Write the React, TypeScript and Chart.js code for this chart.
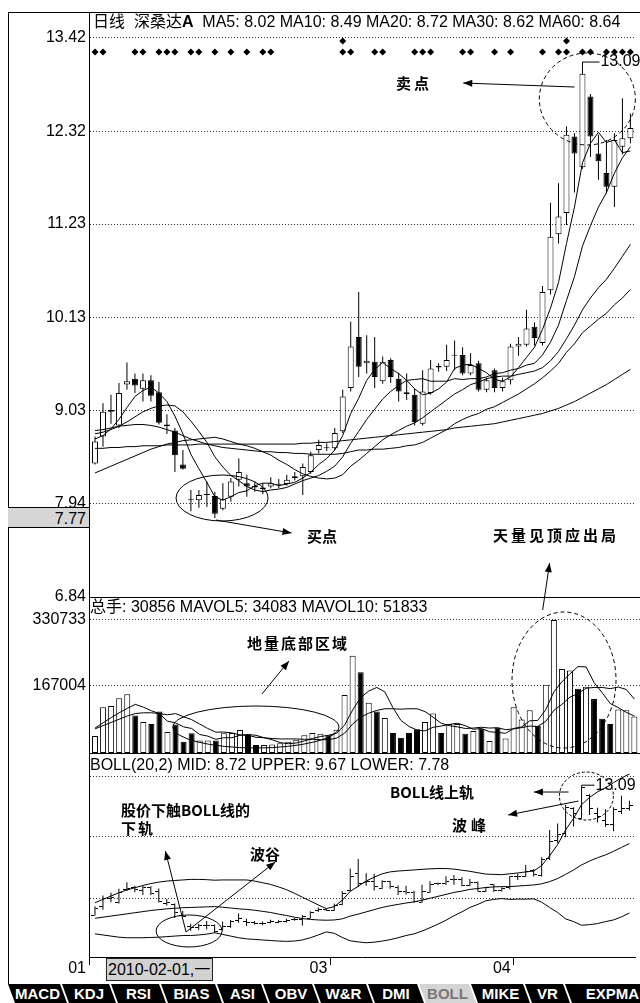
import React, { useEffect, useRef } from 'react';
import { Chart, registerables } from 'chart.js';

Chart.register(...registerables);

// ---------------- data ----------------
const DATES = [
  '2010-01-11','2010-01-12','2010-01-13','2010-01-14','2010-01-15','2010-01-18','2010-01-19','2010-01-20','2010-01-21','2010-01-22',
  '2010-01-25','2010-01-26','2010-01-27','2010-01-28','2010-01-29','2010-02-01','2010-02-02','2010-02-03','2010-02-04','2010-02-05',
  '2010-02-08','2010-02-09','2010-02-10','2010-02-11','2010-02-12','2010-02-22','2010-02-23','2010-02-24','2010-02-25','2010-02-26',
  '2010-03-01','2010-03-02','2010-03-03','2010-03-04','2010-03-05','2010-03-08','2010-03-09','2010-03-10','2010-03-11','2010-03-12',
  '2010-03-15','2010-03-16','2010-03-17','2010-03-18','2010-03-19','2010-03-22','2010-03-23','2010-03-24','2010-03-25','2010-03-26',
  '2010-03-29','2010-03-30','2010-03-31','2010-04-01','2010-04-02','2010-04-06','2010-04-07','2010-04-08','2010-04-09','2010-04-12',
  '2010-04-13','2010-04-14','2010-04-15','2010-04-16','2010-04-19','2010-04-20','2010-04-21','2010-04-22',
];

const OPEN = [8.41,8.73,9.02,8.86,9.34,9.41,9.29,9.39,9.25,8.85, 8.80,8.40,7.99,7.98,8.04,8.03,7.88,8.02,8.22,8.18, 8.15,8.11,8.14,8.16,8.17,8.24,8.26,8.31,8.57,8.60, 8.59,8.79,9.30,9.90,9.59,9.61,9.38,9.63,9.41,9.25, 9.22,8.88,9.24,9.56,9.55,9.68,9.69,9.47,9.59,9.28, 9.51,9.30,9.39,9.79,9.81,10.02,9.83,10.45,11.11,11.36, 12.26,11.90,12.73,12.06,11.83,11.67,12.14,12.24];
const HIGH = [8.73,9.12,9.22,9.36,9.60,9.47,9.47,9.45,9.37,8.99, 8.83,8.57,8.10,8.10,8.20,8.08,8.18,8.24,8.47,8.28, 8.20,8.18,8.25,8.23,8.28,8.31,8.41,8.55,8.69,8.65, 8.83,9.28,10.08,10.43,9.92,9.90,9.67,9.65,9.48,9.47, 9.29,9.51,9.63,9.59,9.81,9.86,9.78,9.71,9.62,9.42, 9.53,9.42,9.82,9.90,10.22,10.07,10.50,11.48,11.71,12.38, 12.30,13.09,12.76,12.28,12.22,12.30,12.71,12.53];
const LOW = [8.40,8.61,8.88,8.83,9.28,9.24,9.14,9.14,8.87,8.76, 8.31,8.34,7.85,7.89,7.90,7.77,7.86,7.96,8.14,8.02, 8.08,8.05,8.12,8.12,8.15,8.21,8.04,8.29,8.53,8.56, 8.57,8.77,9.26,9.43,9.47,9.30,9.35,9.36,9.14,9.16, 8.86,8.86,9.22,9.49,9.50,9.51,9.45,9.45,9.26,9.25, 9.25,9.26,9.34,9.68,9.79,9.80,9.80,10.40,11.00,11.22, 11.60,11.88,12.02,11.75,11.59,11.43,12.05,12.18];
const CLOSE = [8.67,9.02,9.04,9.24,9.38,9.33,9.39,9.21,8.89,8.87, 8.51,8.35,7.98,8.04,8.05,7.82,7.99,8.20,8.31,8.14, 8.13,8.13,8.18,8.17,8.22,8.26,8.37,8.51,8.63,8.59, 8.77,9.20,9.79,9.55,9.62,9.43,9.61,9.43,9.26,9.23, 8.90,9.26,9.53,9.54,9.63,9.69,9.47,9.57,9.28,9.39, 9.30,9.38,9.79,9.82,10.00,9.89,10.43,11.08,11.32,12.28, 12.06,13.00,12.26,11.97,11.67,12.22,12.24,12.36];

const MA5 = [8.70,8.74,8.82,8.93,9.07,9.20,9.27,9.31,9.24,9.14, 8.97,8.76,8.52,8.35,8.19,8.02,7.98,8.02,8.07,8.09, 8.15,8.18,8.18,8.15,8.17,8.19,8.24,8.31,8.40,8.47, 8.57,8.74,9.00,9.18,9.39,9.52,9.60,9.53,9.47,9.39, 9.29,9.22,9.24,9.29,9.37,9.53,9.57,9.58,9.53,9.48, 9.40,9.38,9.43,9.54,9.66,9.78,9.99,10.24,10.54,11.00, 11.43,11.95,12.18,12.31,12.19,12.22,12.07,12.09];
const MA10 = [8.76,8.78,8.81,8.85,8.90,8.96,9.02,9.06,9.09,9.10, 9.09,9.02,8.91,8.79,8.66,8.49,8.37,8.27,8.21,8.14, 8.10,8.08,8.10,8.11,8.13,8.17,8.21,8.24,8.27,8.32, 8.38,8.49,8.65,8.79,8.93,9.05,9.17,9.26,9.33,9.39, 9.40,9.41,9.38,9.38,9.38,9.41,9.40,9.41,9.41,9.43, 9.47,9.48,9.51,9.53,9.57,9.59,9.69,9.84,10.04,10.33, 10.61,10.97,11.21,11.43,11.60,11.83,12.01,12.14];
const MA20 = [8.30,8.34,8.38,8.42,8.46,8.50,8.54,8.58,8.61,8.64, 8.66,8.68,8.69,8.70,8.71,8.72,8.70,8.67,8.64,8.62, 8.59,8.55,8.51,8.45,8.40,8.34,8.29,8.26,8.24,8.23, 8.24,8.28,8.38,8.45,8.53,8.61,8.69,8.75,8.80,8.85, 8.89,8.95,9.02,9.09,9.16,9.23,9.28,9.34,9.37,9.41, 9.43,9.44,9.44,9.46,9.48,9.50,9.54,9.62,9.73,9.88, 10.04,10.22,10.36,10.48,10.58,10.71,10.85,10.99];
const MA30 = [8.80,8.81,8.83,8.85,8.86,8.87,8.87,8.86,8.84,8.81, 8.78,8.74,8.70,8.67,8.64,8.62,8.60,8.59,8.58,8.57, 8.56,8.55,8.55,8.54,8.54,8.53,8.53,8.52,8.52,8.52, 8.52,8.53,8.55,8.57,8.57,8.58,8.58,8.59,8.60,8.62, 8.63,8.66,8.71,8.76,8.81,8.88,8.93,8.97,9.00,9.05, 9.08,9.13,9.18,9.23,9.29,9.35,9.42,9.50,9.59,9.72, 9.82,9.95,10.03,10.11,10.18,10.28,10.36,10.46];
const MA60 = [8.59,8.59,8.60,8.60,8.61,8.61,8.62,8.62,8.62,8.63, 8.63,8.63,8.63,8.64,8.64,8.64,8.64,8.64,8.64,8.64, 8.64,8.64,8.64,8.64,8.64,8.64,8.65,8.65,8.66,8.66, 8.67,8.68,8.69,8.70,8.71,8.72,8.73,8.74,8.75,8.76, 8.77,8.78,8.79,8.80,8.81,8.83,8.84,8.85,8.86,8.87, 8.88,8.90,8.92,8.94,8.96,8.98,9.00,9.03,9.06,9.10, 9.14,9.19,9.24,9.29,9.34,9.40,9.46,9.52];

const VOLUME = [42000,114000,117000,136000,146000,93000,77000,72000,103000,52000, 71000,28000,49000,31000,31000,30856,49000,50000,57000,45000, 20000,20000,21000,24000,28000,33000,44000,50000,48000,44000, 58000,144000,242000,201000,125000,103000,87000,50000,38000,50000, 59000,77000,98000,50000,72000,72000,48000,55000,60000,30000, 63000,36000,114000,83000,106000,68000,170000,330733,209000,205000, 160000,165000,134000,85000,72000,108000,106000,91000];
const MAVOL5 = [62000,75000,88000,100000,111000,121000,114000,105000,98000,79000, 75000,65000,61000,46000,42000,34083,38000,38000,44000,46000, 44000,38000,33000,26000,23000,25000,30000,36000,41000,44000, 49000,69000,107000,138000,154000,163000,152000,113000,81000,66000, 57000,55000,64000,67000,71000,74000,68000,59000,61000,53000, 51000,49000,61000,65000,80000,81000,108000,152000,177000,197000, 215000,214000,175000,150000,123000,113000,101000,92000];
const MAVOL10 = [60000,68000,76000,84000,92000,98000,100000,100000,98000,95000, 98000,90000,83000,72000,61000,51833,52000,50000,45000,44000, 39000,38000,36000,35000,35000,35000,34000,34000,33000,33000, 37000,49000,72000,89000,99000,106000,110000,110000,109000,110000, 110000,103000,89000,74000,68000,65000,61000,62000,64000,62000, 63000,58000,60000,63000,67000,66000,79000,106000,121000,139000, 148000,161000,163000,163000,160000,164000,158000,134000];

const BOLL_UPPER = [8.86,8.98,9.10,9.22,9.32,9.40,9.48,9.55,9.60,9.64, 9.66,9.68,9.70,9.70,9.69,9.67,9.68,9.68,9.68,9.68, 9.64,9.58,9.52,9.43,9.33,9.20,9.06,8.92,8.78,8.65, 8.72,8.95,9.27,9.45,9.64,9.78,9.90,9.97,10.00,10.02, 10.04,10.06,10.08,10.09,10.09,10.07,10.03,9.99,9.94,9.89, 9.88,9.87,9.90,9.93,9.97,10.00,10.20,10.55,10.95,11.48, 11.90,12.39,12.65,12.85,12.99,13.18,13.35,13.49];
const BOLL_LOWER = [7.74,7.70,7.66,7.62,7.60,7.60,7.60,7.61,7.62,7.64, 7.66,7.68,7.68,7.70,7.73,7.78,7.72,7.66,7.60,7.56, 7.54,7.52,7.50,7.48,7.47,7.48,7.52,7.60,7.70,7.81, 7.76,7.61,7.49,7.45,7.42,7.44,7.48,7.53,7.60,7.68, 7.74,7.84,7.96,8.09,8.23,8.39,8.53,8.69,8.80,8.93, 8.98,9.01,8.98,8.99,8.99,9.00,8.88,8.69,8.51,8.28, 8.18,8.05,8.07,8.11,8.18,8.24,8.35,8.49];

const SIGNAL_ROW = [0,1,5,6,8,9,10,12,13,15,17,19,21,22,31,32,35,36,40,41,42,46,47,50,52,56,58,59,61,62,64,65,66,67];
const SIGNAL_TOP = [31, 59];

const PRICE_TICKS = [6.84, 7.94, 9.03, 10.13, 11.23, 12.32, 13.42];
const VOLUME_TICKS = [167004, 330733];
const BOLL_GRID = [9.03, 11.23, 13.42];
const CURSOR = 15;
const WEEKDAYS = ['日', '一', '二', '三', '四', '五', '六'];
const STOCK = '深桑达';
const TABS = ['MACD', 'KDJ', 'RSI', 'BIAS', 'ASI', 'OBV', 'W&R', 'DMI', 'BOLL', 'MIKE', 'VR', 'EXPMA'];
const ACTIVE_TAB = 'BOLL';

// ---------------- layout / style ----------------
const FONT = "'Liberation Sans', Arial, 'Noto Sans CJK SC', sans-serif";
const CJK_BOLD = "'Noto Sans CJK SC', 'Liberation Sans', sans-serif";
const X_MIN = -0.75;
const X_MAX = 67.7;
const AXIS_W = 89;
const SIGNAL_ROW_LEVEL = 13.255;
const SIGNAL_TOP_LEVEL = 13.385;
const TAB_LEFT = [8, 62, 111, 161, 217, 263, 314, 368, 419, 471, 525, 565];

const pts = (arr: number[]) => arr.map((v, i) => ({ x: i, y: v }));
const candleFill = OPEN.map((o, i) => (CLOSE[i] >= o ? '#ffffff' : '#000000'));

function monthTicks() {
  const out = [{ value: X_MIN, label: DATES[0].slice(5, 7) }];
  for (let i = 1; i < DATES.length; i++) {
    if (DATES[i].slice(5, 7) !== DATES[i - 1].slice(5, 7)) out.push({ value: i - 0.5, label: DATES[i].slice(5, 7) });
  }
  return out;
}

const hiddenX: any = {
  type: 'linear', min: X_MIN, max: X_MAX, bounds: 'data', offset: false, display: false, grid: { offset: false },
};

function yAxis(min: number, max: number, ticks: number[], showLabels: boolean, fmt: (v: number) => string): any {
  return {
    type: 'linear', position: 'left', min, max, bounds: 'data',
    afterBuildTicks: (s: any) => { s.ticks = ticks.map((v) => ({ value: v })); },
    afterFit: (s: any) => { s.width = AXIS_W; },
    ticks: { display: showLabels, padding: 3, color: '#000', font: { family: FONT, size: 16 }, callback: (v: any) => fmt(Number(v)) },
    grid: { color: '#333', lineWidth: 1, drawTicks: false },
    border: { display: true, color: '#000', width: 1, dash: [1, 2] },
  };
}

const line = (label: string, arr: number[], order = 0): any => ({
  type: 'line', label, data: pts(arr), borderColor: '#000', borderWidth: 1, pointRadius: 0, tension: 0, fill: false, order,
});

function notes(shapes: any[]) {
  return {
    id: 'notes',
    afterDraw(chart: any) {
      const { ctx } = chart;
      const xs = chart.scales.x;
      const ys = chart.scales.y;
      ctx.save();
      ctx.strokeStyle = '#000';
      ctx.fillStyle = '#000';
      ctx.lineWidth = 1;
      for (const s of shapes) {
        if (s.kind === 'ellipse') {
          ctx.setLineDash(s.dash || []);
          ctx.beginPath();
          ctx.ellipse(xs.getPixelForValue(s.x), ys.getPixelForValue(s.y), s.rx, s.ry, 0, 0, Math.PI * 2);
          ctx.stroke();
        } else if (s.kind === 'arrow') {
          ctx.setLineDash([]);
          const ax = xs.getPixelForValue(s.x1), ay = ys.getPixelForValue(s.y1);
          const bx = xs.getPixelForValue(s.x2), by = ys.getPixelForValue(s.y2);
          ctx.beginPath(); ctx.moveTo(ax, ay); ctx.lineTo(bx, by); ctx.stroke();
          const a = Math.atan2(by - ay, bx - ax);
          const L = 9, H = 3.5;
          ctx.beginPath();
          ctx.moveTo(bx, by);
          ctx.lineTo(bx - L * Math.cos(a) + H * Math.sin(a), by - L * Math.sin(a) - H * Math.cos(a));
          ctx.lineTo(bx - L * Math.cos(a) - H * Math.sin(a), by - L * Math.sin(a) + H * Math.cos(a));
          ctx.closePath();
          ctx.fill();
        } else if (s.kind === 'peak') {
          ctx.setLineDash([]);
          const px = xs.getPixelForValue(s.x), py = ys.getPixelForValue(s.y);
          ctx.beginPath();
          ctx.moveTo(px, py);
          ctx.lineTo(px, py - s.up);
          ctx.lineTo(px + s.right, py - s.up);
          ctx.stroke();
          ctx.font = `16px ${FONT}`;
          ctx.textAlign = 'left';
          ctx.textBaseline = 'middle';
          ctx.fillText(s.text, px + s.right + 1, py - s.up);
        }
      }
      ctx.restore();
    },
  };
}

const PEAK = 61;
const PRICE_SHAPES = [
  { kind: 'ellipse', x: 15.9, y: 8.005, rx: 46, ry: 23 },
  { kind: 'arrow', x1: 15.15, y1: 7.746, x2: 24.59, y2: 7.593 },
  { kind: 'ellipse', x: 61.61, y: 12.702, rx: 48, ry: 46, dash: [4, 3] },
  { kind: 'arrow', x1: 60.0, y1: 12.843, x2: 46.08, y2: 12.89 },
  { kind: 'arrow', x1: 56.02, y1: 6.687, x2: 56.89, y2: 7.24 },
  { kind: 'peak', x: PEAK, y: HIGH[PEAK], up: 4, right: 17, text: HIGH[PEAK].toFixed(2) },
];
const VOLUME_SHAPES = [
  { kind: 'ellipse', x: 19.99, y: 64655, rx: 83, ry: 21 },
  { kind: 'ellipse', x: 58.26, y: 181531, rx: 52, ry: 68, dash: [4, 3] },
  { kind: 'arrow', x1: 20.74, y1: 146717, x2: 24.09, y2: 228778 },
];
const BOLL_SHAPES = [
  { kind: 'ellipse', x: 11.8, y: 7.843, rx: 33, ry: 16 },
  { kind: 'arrow', x1: 11.42, y1: 7.807, x2: 8.82, y2: 10.721 },
  { kind: 'arrow', x1: 11.42, y1: 7.807, x2: 22.6, y2: 10.325 },
  { kind: 'ellipse', x: 61.61, y: 12.7, rx: 27, ry: 24, dash: [3, 2] },
  { kind: 'arrow', x1: 59.37, y1: 12.844, x2: 55.03, y2: 12.844 },
  { kind: 'arrow', x1: 60.61, y1: 12.52, x2: 51.8, y2: 12.017 },
  { kind: 'peak', x: PEAK, y: HIGH[PEAK], up: 0, right: 13, text: HIGH[PEAK].toFixed(2) },
];

const LABELS = [
  { text: '卖点', x: 396, y: 82, sp: 3 },
  { text: '买点', x: 307, y: 535, sp: 0 },
  { text: '天量见顶应出局', x: 493, y: 534, sp: 3 },
  { text: '地量底部区域', x: 247, y: 642, sp: 2 },
  { text: '股价下触BOLL线的', x: 121, y: 809, sp: 0 },
  { text: '下轨', x: 121, y: 827, sp: 2 },
  { text: '波谷', x: 250, y: 853, sp: 0 },
  { text: 'BOLL线上轨', x: 390, y: 791, sp: 0 },
  { text: '波峰', x: 452, y: 824, sp: 4 },
];

function baseOptions(scales: any, padTop: number, padBottom: number): any {
  return {
    responsive: false,
    maintainAspectRatio: false,
    animation: false,
    events: [],
    layout: { padding: { top: padTop, bottom: padBottom, left: 0, right: 0 } },
    plugins: { legend: { display: false }, tooltip: { enabled: false }, title: { display: false } },
    scales,
  };
}

export default function App() {
  const priceRef = useRef<HTMLCanvasElement>(null);
  const volRef = useRef<HTMLCanvasElement>(null);
  const bollRef = useRef<HTMLCanvasElement>(null);

  useEffect(() => {
    const charts: Chart[] = [];

    // price panel
    charts.push(new Chart(priceRef.current as HTMLCanvasElement, {
      type: 'line',
      data: {
        datasets: [
          line('MA5', MA5), line('MA10', MA10), line('MA20', MA20), line('MA30', MA30), line('MA60', MA60),
          {
            type: 'line', label: 'signal', data: SIGNAL_ROW.map((i) => ({ x: i, y: SIGNAL_ROW_LEVEL })),
            showLine: false, pointStyle: 'rectRot', pointRadius: 3.5, pointBackgroundColor: '#000', pointBorderWidth: 0, order: 0,
          },
          {
            type: 'line', label: 'signal2', data: SIGNAL_TOP.map((i) => ({ x: i, y: SIGNAL_TOP_LEVEL })),
            showLine: false, pointStyle: 'rectRot', pointRadius: 3.5, pointBackgroundColor: '#000', pointBorderWidth: 0, order: 0,
          },
          {
            type: 'bar', label: 'body', data: OPEN.map((o, i) => ({ x: i, y: [o, CLOSE[i]] })),
            backgroundColor: candleFill, borderColor: '#000', borderWidth: 1, borderSkipped: false,
            grouped: false, barThickness: 6, maxBarThickness: 6, minBarLength: 1, inflateAmount: 0, order: 1,
          },
          {
            type: 'bar', label: 'wick', data: LOW.map((l, i) => ({ x: i, y: [l, HIGH[i]] })),
            backgroundColor: '#000', borderWidth: 0, grouped: false, barThickness: 1, maxBarThickness: 1, inflateAmount: 0, order: 2,
          },
        ] as any,
      },
      options: baseOptions({ x: hiddenX, y: yAxis(6.84, 13.726, PRICE_TICKS, true, (v) => v.toFixed(2)) }, 20, 15),
      plugins: [notes(PRICE_SHAPES)],
    } as any));

    // volume panel
    charts.push(new Chart(volRef.current as HTMLCanvasElement, {
      type: 'line',
      data: {
        datasets: [
          line('MAVOL5', MAVOL5), line('MAVOL10', MAVOL10),
          {
            type: 'bar', label: 'volume', data: pts(VOLUME), backgroundColor: candleFill, borderColor: '#000',
            borderWidth: 1, borderSkipped: false, grouped: false, barThickness: 6, maxBarThickness: 6, inflateAmount: 0, order: 1,
          },
        ] as any,
      },
      options: baseOptions({ x: hiddenX, y: yAxis(0, 387927, VOLUME_TICKS, true, (v) => String(Math.round(v))) }, 20, 20),
      plugins: [notes(VOLUME_SHAPES)],
    } as any));

    // BOLL panel
    const tick = (left: boolean) => {
      const c = document.createElement('canvas');
      c.width = 7; c.height = 1;
      const g = c.getContext('2d') as CanvasRenderingContext2D;
      g.fillStyle = '#000';
      g.fillRect(left ? 0 : 4, 0, 3, 1);
      return c;
    };
    const months = monthTicks();
    charts.push(new Chart(bollRef.current as HTMLCanvasElement, {
      type: 'line',
      data: {
        datasets: [
          line('MID', MA20), line('UPPER', BOLL_UPPER), line('LOWER', BOLL_LOWER),
          {
            type: 'line', label: 'open', data: pts(OPEN), showLine: false, pointStyle: tick(true), pointRadius: 3, order: 1,
          },
          {
            type: 'line', label: 'close', data: pts(CLOSE), showLine: false, pointStyle: tick(false), pointRadius: 3, order: 1,
          },
          {
            type: 'bar', label: 'range', data: LOW.map((l, i) => ({ x: i, y: [l, HIGH[i]] })),
            backgroundColor: '#000', borderWidth: 0, grouped: false, barThickness: 1, maxBarThickness: 1, inflateAmount: 0, order: 2,
          },
        ] as any,
      },
      options: baseOptions({
        x: {
          type: 'linear', min: X_MIN, max: X_MAX, bounds: 'data', offset: false,
          afterBuildTicks: (s: any) => { s.ticks = months.map((m) => ({ value: m.value })); },
          afterFit: (s: any) => { s.height = 28; },
          ticks: {
            autoSkip: false, maxRotation: 0, minRotation: 0, align: 'end', labelOffset: -3, padding: -6,
            color: '#000', font: { family: FONT, size: 16 },
            callback: (_v: any, i: number) => (months[i] ? months[i].label : ''),
          },
          grid: { display: true, offset: false, drawOnChartArea: false, drawTicks: true, tickLength: 8, tickColor: '#000', color: '#000' },
          border: { display: true, color: '#000', width: 1 },
        },
        y: yAxis(6.907, 14.248, BOLL_GRID, false, (v) => v.toFixed(2)),
      }, 20, 0),
      plugins: [notes(BOLL_SHAPES)],
    } as any));

    return () => { charts.forEach((c) => c.destroy()); };
  }, []);

  const f2 = (v: number) => v.toFixed(2);
  const cursorDate = DATES[CURSOR];
  const weekday = WEEKDAYS[new Date(cursorDate + 'T00:00:00').getDay()];
  const abs = (style: any) => ({ position: 'absolute', ...style });

  return (
    <div style={{ position: 'absolute', left: 0, top: 0, width: 640, height: 1003, overflow: 'hidden', background: '#fff', fontFamily: FONT }}>
      <canvas ref={priceRef} width={640} height={620} style={abs({ left: 0, top: -8, width: 640, height: 620 })} />
      <canvas ref={volRef} width={640} height={196} style={abs({ left: 0, top: 577, width: 640, height: 196 })} />
      <canvas ref={bollRef} width={640} height={252} style={abs({ left: 0, top: 733, width: 640, height: 252 })} />

      {/* frame */}
      <div style={abs({ left: 8, top: 12, width: 632, height: 1, background: '#000' })} />
      <div style={abs({ left: 8, top: 12, width: 1, height: 972, background: '#000' })} />
      <div style={abs({ left: AXIS_W, top: 597, width: 640 - AXIS_W, height: 1, background: '#000' })} />
      <div style={abs({ left: AXIS_W, top: 753, width: 640 - AXIS_W, height: 1, background: '#000' })} />

      {/* panel headers */}
      <div style={abs({ left: 93, top: 22, transform: 'translateY(-50%)', fontSize: 16, lineHeight: 1, whiteSpace: 'pre', color: '#000' })}>
        {'日线  ' + STOCK}<span style={{ fontWeight: 'bold' }}>A</span>
        {`  MA5: ${f2(MA5[CURSOR])} MA10: ${f2(MA10[CURSOR])} MA20: ${f2(MA20[CURSOR])} MA30: ${f2(MA30[CURSOR])} MA60: ${f2(MA60[CURSOR])}`}
      </div>
      <div style={abs({ left: 90, top: 607, transform: 'translateY(-50%)', fontSize: 16, lineHeight: 1, whiteSpace: 'pre', color: '#000' })}>
        {`总手: ${VOLUME[CURSOR]} MAVOL5: ${MAVOL5[CURSOR]} MAVOL10: ${MAVOL10[CURSOR]}`}
      </div>
      <div style={abs({ left: 90, top: 765, transform: 'translateY(-50%)', fontSize: 16, lineHeight: 1, whiteSpace: 'pre', color: '#000' })}>
        {`BOLL(20,2) MID: ${f2(MA20[CURSOR])} UPPER: ${f2(BOLL_UPPER[CURSOR])} LOWER: ${f2(BOLL_LOWER[CURSOR])}`}
      </div>

      {/* crosshair price box */}
      <div style={abs({ left: 8, top: 507, width: 81, height: 21, background: '#d6d6d6', borderTop: '1px solid #000', borderBottom: '1px solid #000', fontSize: 16, lineHeight: '21px', textAlign: 'right', paddingRight: 3, boxSizing: 'border-box', color: '#000' })}>
        {f2(LOW[CURSOR])}
      </div>

      {/* crosshair date box */}
      <div style={abs({ left: 106, top: 958, width: 107, height: 23, background: '#d2d2d2', border: '1px solid #222', boxSizing: 'border-box', fontSize: 16, lineHeight: '21px', paddingLeft: 1, whiteSpace: 'pre', color: '#000' })}>
        {`${cursorDate},${weekday}`}
      </div>

      {/* annotation texts */}
      {LABELS.map((l) => (
        <div key={l.text} style={abs({ left: l.x, top: l.y, transform: 'translateY(-50%)', fontFamily: CJK_BOLD, fontWeight: 700, fontSize: 15, lineHeight: 1, letterSpacing: l.sp, whiteSpace: 'pre', color: '#000' })}>
          {l.text}
        </div>
      ))}

      {/* indicator tabs */}
      {TABS.map((t, i) => {
        const left = TAB_LEFT[i];
        const right = i < TABS.length - 1 ? TAB_LEFT[i + 1] + 5 : 660;
        const active = t === ACTIVE_TAB;
        return (
          <div key={t} style={abs({
            left, top: 984, width: right - left, height: 19,
            background: active ? '#d4d4d4' : '#000', color: active ? '#777' : '#fff',
            clipPath: 'polygon(0 0, calc(100% - 7px) 0, 100% 100%, 7px 100%)',
            fontFamily: FONT, fontWeight: 'bold', fontSize: 15, lineHeight: '19px', textAlign: 'center',
          })}>{t}</div>
        );
      })}
    </div>
  );
}
